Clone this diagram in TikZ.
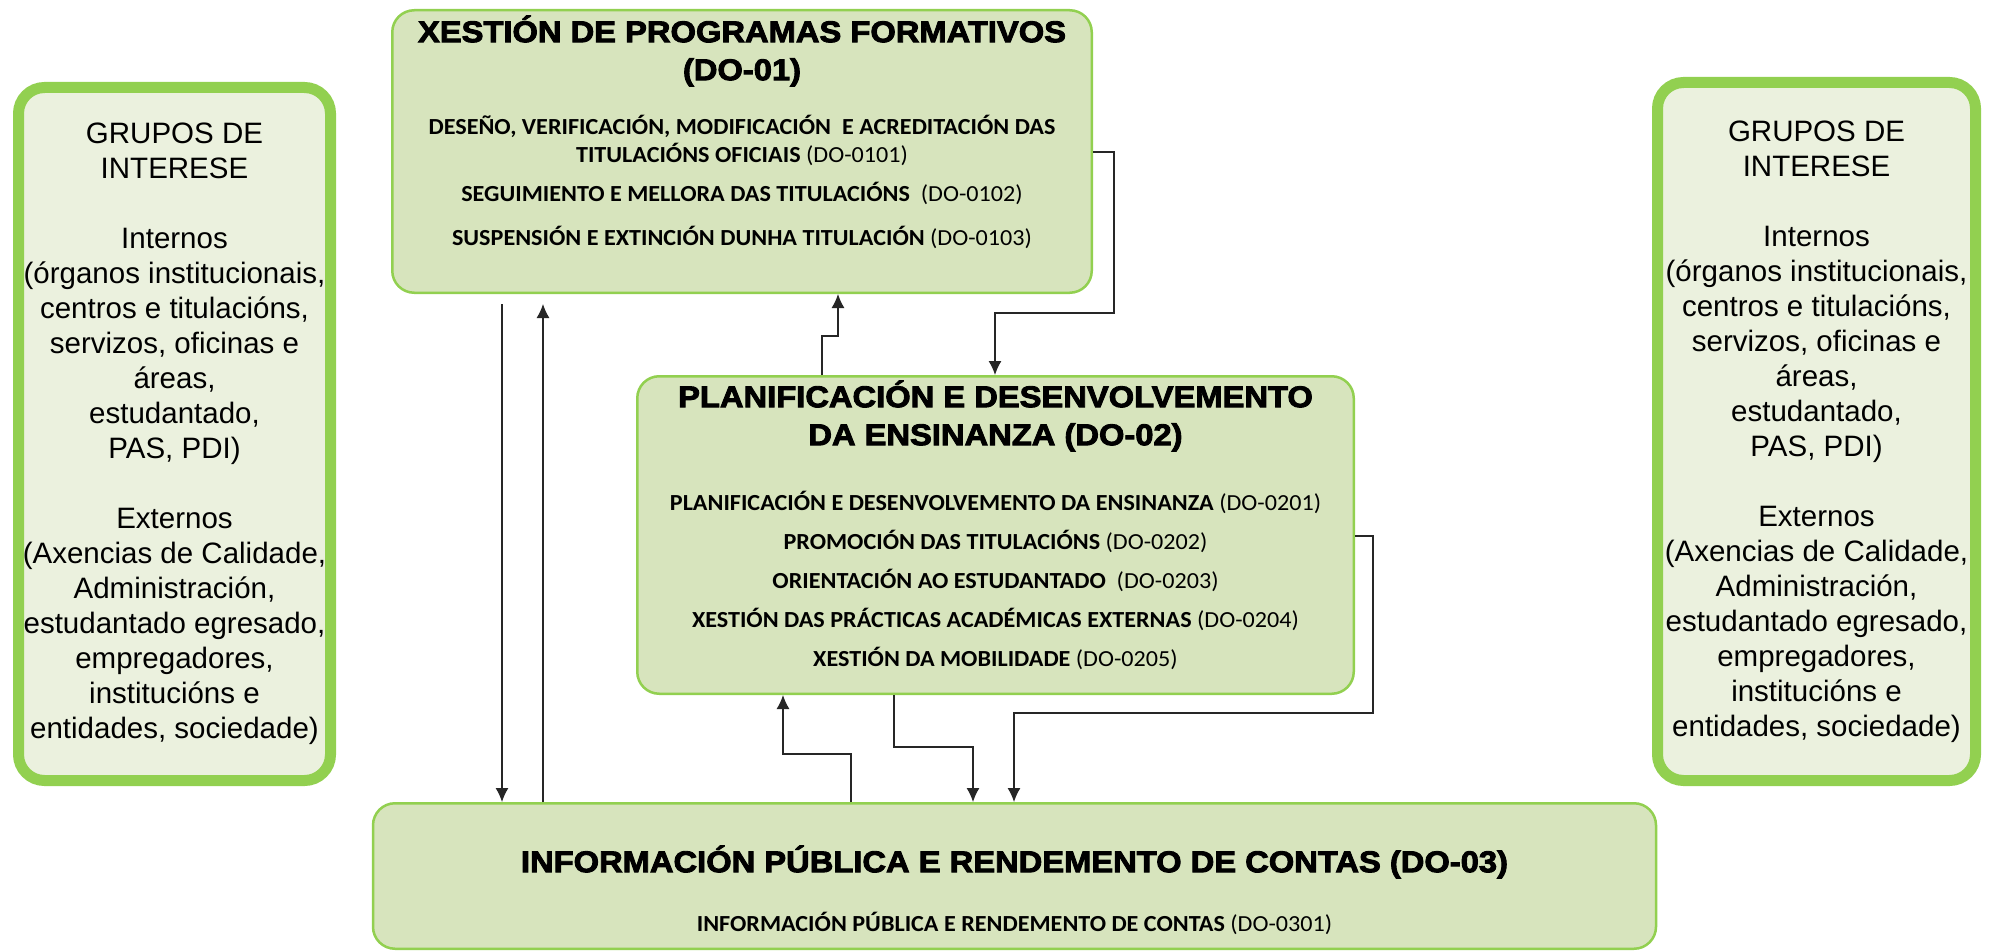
\documentclass[tikz,border=0pt]{standalone}
\usepackage{fontspec}
\setmainfont{Liberation Sans}
\newfontfamily\titlefont{Liberation Sans}[FakeStretch=1.09, BoldFeatures={FakeBold=3}]
\newfontfamily\itemfont{Carlito}[FakeStretch=1.05]
\usetikzlibrary{positioning,calc,arrows.meta}
\definecolor{boxfill}{HTML}{D7E4BD}
\definecolor{sidefill}{HTML}{EBF1DE}
\definecolor{boxline}{HTML}{92D050}
\newcommand{\grupostext}{GRUPOS DE\\INTERESE\\[35pt]Internos\\(órganos institucionais,\\centros e titulacións,\\servizos, oficinas e\\áreas,\\estudantado,\\PAS, PDI)\\[35pt]Externos\\(Axencias de Calidade,\\Administración,\\estudantado egresado,\\empregadores,\\institucións e\\entidades, sociedade)}

\begin{document}
\begin{tikzpicture}[x=1pt, y=-1pt,
  procbox/.style = {draw=boxline, fill=boxfill, line width=2.5pt,
    rounded corners=22pt, inner sep=0pt},
  sidebox/.style = {draw=boxline, fill=sidefill, line width=11pt,
    rounded corners=26pt, inner sep=0pt, align=center,
    font=\fontsize{29.5}{35}\selectfont},
  boxtitle/.style = {align=center, inner sep=0pt,
    font=\titlefont\bfseries\fontsize{30}{38}\selectfont},
  boxitem/.style = {align=center, inner sep=0pt,
    font=\itemfont\fontsize{23}{28}\selectfont},
  arr/.style = {line width=1.3pt, draw=black!85,
    -{Latex[length=14pt,width=13pt]}}
  ]
  \path[use as bounding box, fill=white] (0,0) rectangle (1989,952);

  \node (gleft)  [sidebox, minimum width=312pt, minimum height=693pt] at (174.5,434) {\grupostext};
  \node (gright) [sidebox, minimum width=318pt, minimum height=698pt] at (1816.5,431.5) {\grupostext};

  \node (do1) [procbox, minimum width=699.5pt, minimum height=282.5pt] at (742,151.5) {};
  \node (do1title) [boxtitle] at (742,51) {XESTIÓN DE PROGRAMAS FORMATIVOS\\(DO-01)};
  \node (do1a) [boxitem] at (742,140) {\textbf{DESEÑO, VERIFICACIÓN, MODIFICACIÓN\ \ E ACREDITACIÓN DAS}\\\textbf{TITULACIÓNS OFICIAIS} (DO-0101)};
  \node (do1b) [boxitem] at (742,193) {\textbf{SEGUIMIENTO E MELLORA DAS TITULACIÓNS}\ \ (DO-0102)};
  \node (do1c) [boxitem] at (742,237) {\textbf{SUSPENSIÓN E EXTINCIÓN DUNHA TITULACIÓN} (DO-0103)};

  \node (do2) [procbox, minimum width=716.5pt, minimum height=317.5pt] at (995.5,535) {};
  \node (do2title) [boxtitle] at (995.5,416) {PLANIFICACIÓN E DESENVOLVEMENTO\\DA ENSINANZA (DO-02)};
  \node (do2a) [boxitem] at (995.5,502) {\textbf{PLANIFICACIÓN E DESENVOLVEMENTO DA ENSINANZA} (DO-0201)};
  \node (do2b) [boxitem] at (995.5,541) {\textbf{PROMOCIÓN DAS TITULACIÓNS} (DO-0202)};
  \node (do2c) [boxitem] at (995.5,580) {\textbf{ORIENTACIÓN AO ESTUDANTADO}\ \ (DO-0203)};
  \node (do2d) [boxitem] at (995.5,619) {\textbf{XESTIÓN DAS PRÁCTICAS ACADÉMICAS EXTERNAS} (DO-0204)};
  \node (do2e) [boxitem] at (995.5,658) {\textbf{XESTIÓN DA MOBILIDADE} (DO-0205)};

  \node (do3) [procbox, minimum width=1283pt, minimum height=145.5pt] at (1014.5,876) {};
  \node (do3title) [boxtitle] at (1014.5,862) {INFORMACIÓN PÚBLICA E RENDEMENTO DE CONTAS (DO-03)};
  \node (do3a) [boxitem] at (1014.5,923) {\textbf{INFORMACIÓN PÚBLICA E RENDEMENTO DE CONTAS} (DO-0301)};

  \draw[arr, shorten <=10pt] (do1.south -| 502,0) -- (do3.north -| 502,0);
  \draw[arr, shorten >=10pt] (do3.north -| 543,0) -- (do1.south -| 543,0);
  \draw[arr] (do2.north -| 822,0) |- (838,336) -- (do1.south -| 838,0);
  \draw[arr] (do1.east |- 0,152) -| (1114,313) -| (do2.north -| 995,0);
  \draw[arr] (do2.east |- 0,536) -| (1373,713) -| (do3.north -| 1014,0);
  \draw[arr] (do2.south -| 894,0) |- (973,747) -- (do3.north -| 973,0);
  \draw[arr] (do3.north -| 851,0) |- (783,754) -- (do2.south -| 783,0);
\end{tikzpicture}
\end{document}
